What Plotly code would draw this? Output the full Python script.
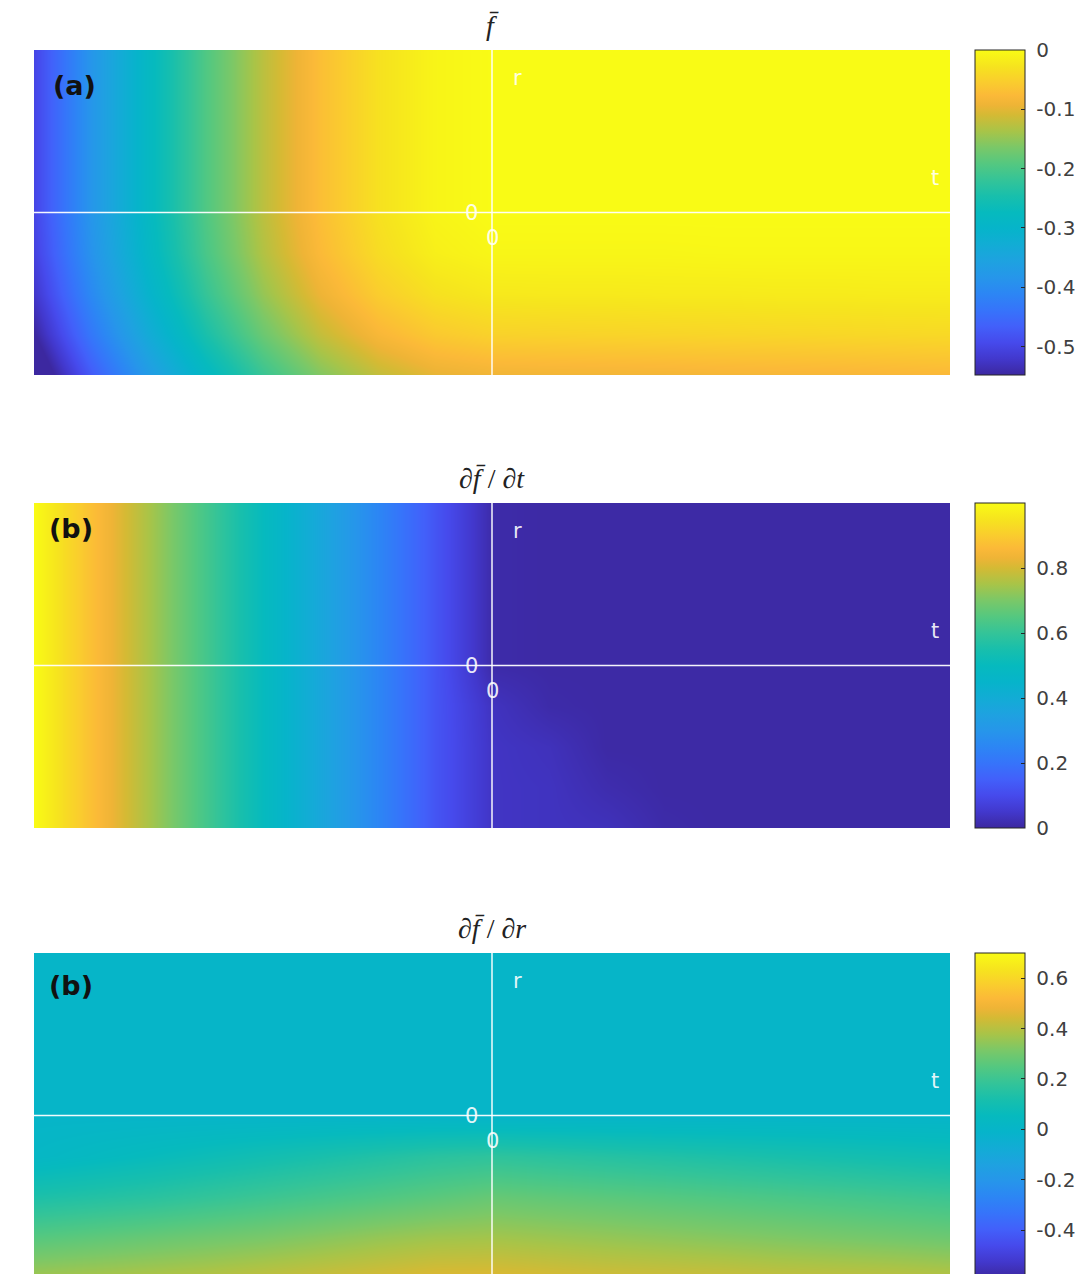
import plotly.graph_objects as go

# ---------------- data ----------------
T = [-1, -0.875, -0.75, -0.625, -0.5, -0.375, -0.25, -0.125, 0,
     0.125, 0.25, 0.375, 0.5, 0.625, 0.75, 0.875, 1]
R = [1, 0.75, 0.5, 0.25, 0, -0.25, -0.5, -0.75, -1]

F_BAR = [
    [-0.500, -0.383, -0.281, -0.195, -0.125, -0.070, -0.031, -0.008, 0, 0, 0, 0, 0, 0, 0, 0, 0],
    [-0.500, -0.383, -0.281, -0.195, -0.125, -0.070, -0.031, -0.008, 0, 0, 0, 0, 0, 0, 0, 0, 0],
    [-0.500, -0.383, -0.281, -0.195, -0.125, -0.070, -0.031, -0.008, 0, 0, 0, 0, 0, 0, 0, 0, 0],
    [-0.500, -0.383, -0.281, -0.195, -0.125, -0.070, -0.031, -0.008, 0, 0, 0, 0, 0, 0, 0, 0, 0],
    [-0.500, -0.383, -0.281, -0.195, -0.125, -0.070, -0.031, -0.008, 0, 0, 0, 0, 0, 0, 0, 0, 0],
    [-0.506, -0.389, -0.287, -0.201, -0.131, -0.076, -0.037, -0.014, -0.006, -0.006, -0.006, -0.006, -0.005, -0.005, -0.005, -0.005, -0.005],
    [-0.523, -0.406, -0.304, -0.218, -0.148, -0.093, -0.054, -0.031, -0.022, -0.021, -0.021, -0.020, -0.020, -0.019, -0.019, -0.018, -0.018],
    [-0.550, -0.433, -0.331, -0.245, -0.175, -0.120, -0.081, -0.058, -0.048, -0.047, -0.046, -0.045, -0.044, -0.043, -0.042, -0.041, -0.040],
    [-0.590, -0.473, -0.371, -0.285, -0.215, -0.160, -0.121, -0.098, -0.090, -0.088, -0.087, -0.086, -0.084, -0.083, -0.082, -0.080, -0.078],
]

DF_DT = [
    [1.0, 0.875, 0.75, 0.625, 0.5, 0.375, 0.25, 0.125, 0.01, 0.005, 0.005, 0.005, 0.005, 0.005, 0.005, 0.005, 0.005],
    [1.0, 0.875, 0.75, 0.625, 0.5, 0.375, 0.25, 0.125, 0.01, 0.005, 0.005, 0.005, 0.005, 0.005, 0.005, 0.005, 0.005],
    [1.0, 0.875, 0.75, 0.625, 0.5, 0.375, 0.25, 0.125, 0.01, 0.005, 0.005, 0.005, 0.005, 0.005, 0.005, 0.005, 0.005],
    [1.0, 0.875, 0.75, 0.625, 0.5, 0.375, 0.25, 0.125, 0.01, 0.005, 0.005, 0.005, 0.005, 0.005, 0.005, 0.005, 0.005],
    [1.0, 0.875, 0.75, 0.625, 0.5, 0.375, 0.25, 0.125, 0.01, 0.005, 0.005, 0.005, 0.005, 0.005, 0.005, 0.005, 0.005],
    [1.0, 0.875, 0.75, 0.625, 0.5, 0.375, 0.25, 0.125, 0.035, 0.01, 0.005, 0.005, 0.005, 0.005, 0.005, 0.005, 0.005],
    [1.0, 0.875, 0.75, 0.625, 0.5, 0.375, 0.25, 0.125, 0.04, 0.03, 0.005, 0.005, 0.005, 0.005, 0.005, 0.005, 0.005],
    [1.0, 0.875, 0.75, 0.625, 0.5, 0.375, 0.25, 0.125, 0.04, 0.035, 0.015, 0.005, 0.005, 0.005, 0.005, 0.005, 0.005],
    [1.0, 0.875, 0.75, 0.625, 0.5, 0.375, 0.25, 0.125, 0.04, 0.035, 0.03, 0.01, 0.005, 0.005, 0.005, 0.005, 0.005],
]

DF_DR = [
    [0] * 17,
    [0] * 17,
    [0] * 17,
    [0] * 17,
    [0] * 17,
    [0.02, 0.04, 0.06, 0.08, 0.10, 0.12, 0.14, 0.16, 0.17, 0.16, 0.15, 0.14, 0.13, 0.12, 0.11, 0.10, 0.09],
    [0.13, 0.145, 0.16, 0.18, 0.20, 0.22, 0.24, 0.26, 0.28, 0.27, 0.26, 0.25, 0.24, 0.23, 0.22, 0.21, 0.20],
    [0.25, 0.265, 0.28, 0.295, 0.31, 0.33, 0.35, 0.365, 0.37, 0.36, 0.35, 0.34, 0.33, 0.32, 0.31, 0.30, 0.29],
    [0.37, 0.38, 0.39, 0.40, 0.415, 0.43, 0.445, 0.46, 0.46, 0.45, 0.44, 0.435, 0.43, 0.42, 0.415, 0.41, 0.40],
]

RANGES = [(-0.548, 0.0), (0.0, 1.0), (-0.59, 0.70)]
TICKS = [
    [0, -0.1, -0.2, -0.3, -0.4, -0.5],
    [0, 0.2, 0.4, 0.6, 0.8],
    [0.6, 0.4, 0.2, 0, -0.2, -0.4],
]
TICK_TEXT = [
    ["0", "-0.1", "-0.2", "-0.3", "-0.4", "-0.5"],
    ["0", "0.2", "0.4", "0.6", "0.8"],
    ["0.6", "0.4", "0.2", "0", "-0.2", "-0.4"],
]
TITLES = ["<i>f̄</i>", "∂<i>f̄</i> / ∂<i>t</i>", "∂<i>f̄</i> / ∂<i>r</i>"]
PANEL_LABELS = ["(a)", "(b)", "(b)"]

# ---------------- style ----------------
PARULA = [
    [0.000, "rgb(60,40,160)"],
    [0.050, "rgb(66,56,205)"],
    [0.100, "rgb(70,74,236)"],
    [0.150, "rgb(66,96,250)"],
    [0.200, "rgb(54,116,250)"],
    [0.250, "rgb(44,134,244)"],
    [0.300, "rgb(38,150,234)"],
    [0.350, "rgb(30,162,224)"],
    [0.400, "rgb(18,172,213)"],
    [0.450, "rgb(6,180,202)"],
    [0.500, "rgb(6,186,190)"],
    [0.550, "rgb(24,191,172)"],
    [0.600, "rgb(52,196,152)"],
    [0.650, "rgb(84,200,128)"],
    [0.700, "rgb(122,200,104)"],
    [0.750, "rgb(168,196,72)"],
    [0.800, "rgb(212,186,52)"],
    [0.830, "rgb(238,180,54)"],
    [0.860, "rgb(251,185,56)"],
    [0.900, "rgb(250,204,46)"],
    [0.950, "rgb(246,228,30)"],
    [1.000, "rgb(249,251,21)"],
]

W, H = 1090, 1280
PLOT_X = (34, 950)
PANEL_Y = [(50, 375), (503, 828), (953, 1278)]
CBAR_X = 975
CBAR_W = 50
TITLE_Y = [26, 478, 928]
LABEL_POS = [(51, 86), (47, 528), (47, 985)]
NBSP = "\u00a0"

fig = go.Figure()
annotations = []
shapes = []

for i, z in enumerate([F_BAR, DF_DT, DF_DR]):
    n = "" if i == 0 else str(i + 1)
    y0, y1 = PANEL_Y[i]
    zmin, zmax = RANGES[i]
    fig.add_trace(go.Heatmap(
        x=T, y=R, z=z, zsmooth="best", zmin=zmin, zmax=zmax,
        colorscale=PARULA, xaxis="x" + n, yaxis="y" + n,
        hoverinfo="skip",
        colorbar=dict(
            x=CBAR_X / W, xanchor="left", xpad=0, ypad=0,
            y=1 - (y0 + y1) / 2 / H, yanchor="middle",
            lenmode="pixels", len=(y1 - y0),
            thickness=CBAR_W, thicknessmode="pixels",
            outlinecolor="#262626", outlinewidth=1,
            tickmode="array", tickvals=TICKS[i],
            ticktext=[NBSP + s for s in TICK_TEXT[i]],
            ticks="inside", ticklen=4, tickcolor="#262626",
            tickfont=dict(family="DejaVu Sans", size=20, color="#404040"),
        ),
    ))
    dom_y = [1 - y1 / H, 1 - y0 / H]
    ax = dict(domain=[PLOT_X[0] / W, PLOT_X[1] / W], range=[-1, 1],
              visible=False, showgrid=False, zeroline=False, fixedrange=True)
    ay = dict(domain=dom_y, range=[-1, 1], visible=False, showgrid=False,
              zeroline=False, fixedrange=True)
    fig.update_layout(**{"xaxis" + n: dict(ax, anchor="y" + n),
                         "yaxis" + n: dict(ay, anchor="x" + n)})
    xr, yr = "x" + n, "y" + n
    line = dict(color="rgba(255,255,255,0.95)", width=1.5)
    shapes.append(dict(type="line", xref=xr, yref=yr, x0=-1, x1=1, y0=0, y1=0, line=line))
    shapes.append(dict(type="line", xref=xr, yref=yr, x0=0, x1=0, y0=-1, y1=1, line=line))
    wfont = dict(family="DejaVu Sans", size=21, color="rgba(255,255,255,0.9)")
    annotations += [
        dict(text="r", xref=xr, yref=yr, x=0.055, y=0.83, showarrow=False, font=wfont),
        dict(text="t", xref=xr, yref=yr, x=0.967, y=0.21, showarrow=False, font=wfont),
        dict(text="0", xref=xr, yref=yr, x=-0.044, y=0.0, showarrow=False, font=wfont),
        dict(text="0", xref=xr, yref=yr, x=0.0, y=-0.157, showarrow=False, font=wfont),
    ]
    annotations.append(dict(
        text=TITLES[i], xref="paper", yref="paper", x=492 / W, y=1 - TITLE_Y[i] / H,
        xanchor="center", yanchor="middle", showarrow=False,
        font=dict(family="Liberation Serif", size=28, color="#222222")))
    lx, ly = LABEL_POS[i]
    annotations.append(dict(
        text="<b>" + PANEL_LABELS[i] + "</b>", xref="paper", yref="paper",
        x=lx / W, y=1 - ly / H, xanchor="left", yanchor="middle", showarrow=False,
        font=dict(family="DejaVu Sans", size=27, color="#111111")))

fig.update_layout(
    width=W, height=H, margin=dict(l=0, r=0, t=0, b=0),
    paper_bgcolor="white", plot_bgcolor="white",
    annotations=annotations, shapes=shapes, showlegend=False,
)

fig.write_html(
    "out.html",
    config={"displayModeBar": False},
    post_script="document.body.style.margin='0';document.body.style.overflow='hidden';"
                "document.documentElement.style.overflow='hidden';",
)
